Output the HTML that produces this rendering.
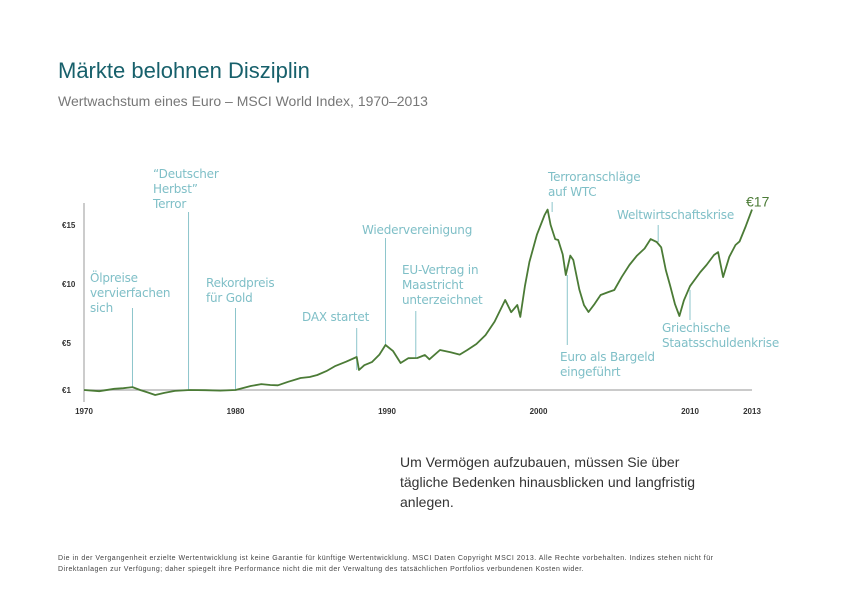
<!DOCTYPE html>
<html><head><meta charset="utf-8">
<style>
html,body{margin:0;padding:0;background:#fff;}
body{width:842px;height:595px;position:relative;overflow:hidden;font-family:"Liberation Sans",sans-serif;}
.t{position:absolute;white-space:nowrap;}
</style></head>
<body>
<div class="t" style="left:58px;top:58px;font-size:22px;color:#17606b;">Märkte belohnen Disziplin</div>
<div class="t" style="left:58px;top:93px;font-size:14px;color:#777;">Wertwachstum eines Euro – MSCI World Index, 1970–2013</div>
<svg id="chart" width="842" height="595" style="position:absolute;left:0;top:0;" xmlns="http://www.w3.org/2000/svg"></svg>
<div class="t" style="left:400px;top:452px;font-size:14px;line-height:20px;color:#333;">Um Vermögen aufzubauen, müssen Sie über<br>tägliche Bedenken hinausblicken und langfristig<br>anlegen.</div>
<div class="t" style="left:58px;top:553px;font-size:7px;letter-spacing:0.5px;line-height:11px;color:#444;">Die in der Vergangenheit erzielte Wertentwicklung ist keine Garantie für künftige Wertentwicklung. MSCI Daten Copyright MSCI 2013. Alle Rechte vorbehalten. Indizes stehen nicht für<br>Direktanlagen zur Verfügung; daher spiegelt ihre Performance nicht die mit der Verwaltung des tatsächlichen Portfolios verbundenen Kosten wider.</div>
<script>
const years = [1970,1971,1972,1972.6,1973.2,1973.7,1974.2,1974.7,1975.3,1976,1977,1978,1979,1980,1980.6,1981,1981.7,1982.3,1982.8,1983.5,1984.3,1984.9,1985.4,1986,1986.6,1987.3,1988.0,1988.15,1988.5,1989,1989.5,1989.9,1990.4,1990.9,1991.4,1992,1992.5,1992.8,1993.5,1994.2,1994.8,1995.3,1995.9,1996.5,1997.1,1997.8,1998.2,1998.6,1998.8,1999.1,1999.4,1999.9,2000.4,2000.6,2000.8,2001.1,2001.3,2001.6,2001.8,2002.1,2002.3,2002.7,2003.0,2003.3,2003.7,2004.1,2004.6,2005.0,2005.5,2006.0,2006.5,2007.0,2007.4,2007.8,2008.1,2008.4,2008.7,2009.0,2009.3,2009.6,2010.0,2010.5,2010.8,2011.16,2011.36,2011.6,2011.9,2012.2,2012.4,2012.7,2013.0];
const values = [1.0,0.9,1.1,1.15,1.25,1.0,0.8,0.58,0.75,0.92,1.0,0.98,0.95,1.0,1.2,1.34,1.5,1.42,1.4,1.7,2.02,2.1,2.27,2.6,3.04,3.4,3.8,2.7,3.1,3.37,4.0,4.82,4.3,3.29,3.7,3.71,3.97,3.6,4.39,4.2,4.0,4.39,4.9,5.66,6.8,8.63,7.6,8.21,7.2,9.8,11.86,14.2,15.84,16.3,15.0,13.8,13.72,12.5,10.75,12.4,12.03,9.5,8.2,7.62,8.3,9.06,9.3,9.48,10.6,11.6,12.4,13.0,13.8,13.55,13.1,11.18,9.8,8.3,7.28,8.6,9.8,11.0,11.6,12.45,12.7,10.58,12.3,13.3,13.6,14.9,16.3];
const xTicks = [1970,1980,1990,2000,2010,2013];
const yTicks = [1,5,10,15];
const yTickLabels = ["€1","€5","€10","€15"];
const events = [
 {year:1973.2, top:308, bottom:387, lines:["Ölpreise","vervierfachen","sich"], lx:90, ly:282},
 {year:1976.9, top:212, bottom:390, lines:["“Deutscher","Herbst”","Terror"], lx:153, ly:178},
 {year:1980.0, top:308, bottom:390, lines:["Rekordpreis","für Gold"], lx:206, ly:287},
 {year:1988.0, top:328, bottom:370, lines:["DAX startet"], lx:302, ly:321},
 {year:1989.9, top:238, bottom:346, lines:["Wiedervereinigung"], lx:362, ly:234},
 {year:1991.9, top:311, bottom:358, lines:["EU-Vertrag in","Maastricht","unterzeichnet"], lx:402, ly:274},
 {year:2000.9, top:202, bottom:212, lines:["Terroranschläge","auf WTC"], lx:548, ly:181},
 {year:2001.9, top:275, bottom:345, lines:["Euro als Bargeld","eingeführt"], lx:560, ly:361},
 {year:2007.9, top:225, bottom:242, lines:["Weltwirtschaftskrise"], lx:617, ly:219},
 {year:2010.0, top:290, bottom:320, lines:["Griechische","Staatsschuldenkrise"], lx:662, ly:332}
];
const NS="http://www.w3.org/2000/svg";
const svg=document.getElementById('chart');
function x(yr){ if(yr<=2010) return 84+(yr-1970)*15.15; return 690+(yr-2010)*20.67; }
function y(v){ return 390-(v-1)*11.79; }
function mk(tag,attrs){const e=document.createElementNS(NS,tag);for(const k in attrs)e.setAttribute(k,attrs[k]);svg.appendChild(e);return e;}
let ax=mk('line',{x1:84,y1:203,x2:84,y2:402,stroke:'#999','stroke-width':1});


let bx=mk('line',{x1:84,y1:y(1),x2:x(2013),y2:y(1),stroke:'#aaa','stroke-width':1.2});


yTicks.forEach((v,i)=>{const t=mk('text',{x:62,y:y(v)+3,'font-size':8,'font-weight':'bold',fill:'#333','font-family':'Liberation Sans, sans-serif'});t.textContent=yTickLabels[i];

});
xTicks.forEach(v=>{const t=mk('text',{x:x(v),y:414,'font-size':8,'font-weight':'bold',fill:'#333','text-anchor':'middle','font-family':'Liberation Sans, sans-serif'});t.textContent=v;

});
events.forEach(ev=>{
 const l=mk('line',{x1:x(ev.year),x2:x(ev.year),y1:ev.top,y2:ev.bottom,stroke:'#8cc5cb','stroke-width':1});
 
 
 ev.lines.forEach((s,i)=>{const t=mk('text',{x:ev.lx,y:ev.ly+i*15,'font-size':12,'letter-spacing':'-0.2',fill:'#7fbfc7','font-family':'DejaVu Sans, sans-serif'});t.textContent=s;
 
 });
});
let d=years.map((yr,i)=>(i?'L':'M')+x(yr).toFixed(1)+','+y(values[i]).toFixed(1)).join(' ');
const p=mk('path',{d:d,fill:'none',stroke:'#4b7b36','stroke-width':1.8,'stroke-linejoin':'round'});


const end=mk('text',{x:x(2013)-6,y:y(values[values.length-1])-3,'font-size':14,fill:'#4b7b36','font-family':'Liberation Sans, sans-serif'});
end.textContent='€17';


</script>
</body></html>
